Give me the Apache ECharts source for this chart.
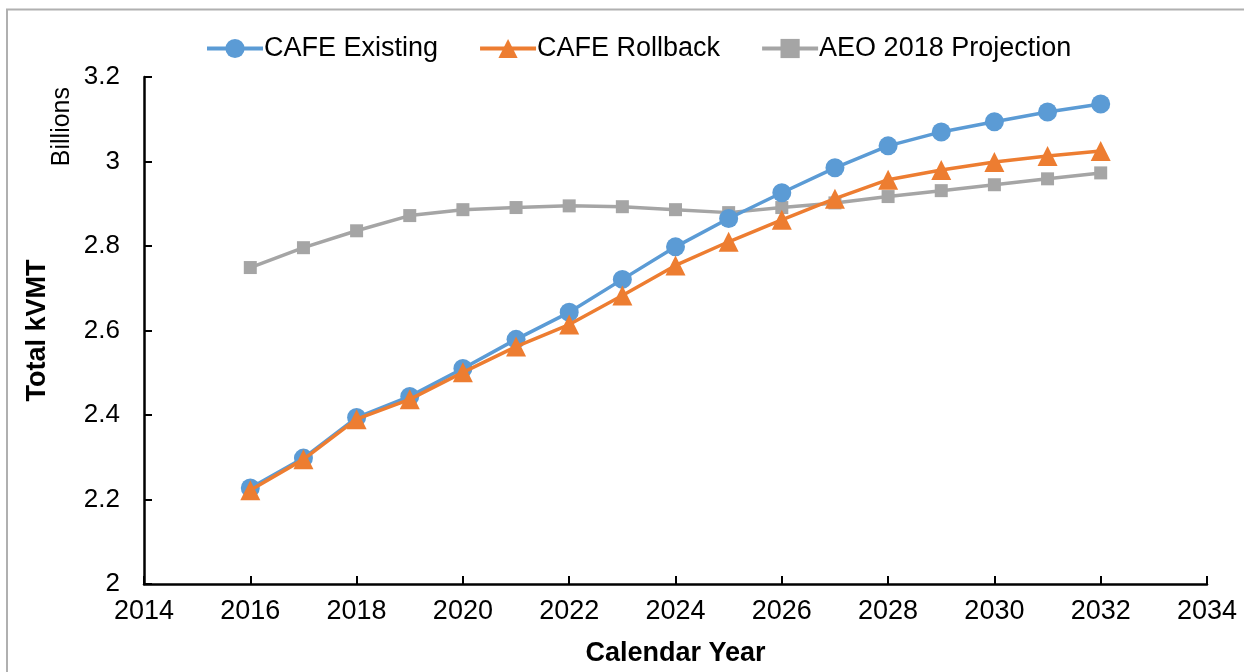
<!DOCTYPE html>
<html><head><meta charset="utf-8">
<script src="https://cdn.jsdelivr.net/npm/echarts@6/dist/echarts.min.js"></script>
<style>html,body{margin:0;padding:0;background:#fff}#c{width:1244px;height:672px}</style>
</head><body><div id="c"></div>
<script>
const years = [2016,2017,2018,2019,2020,2021,2022,2023,2024,2025,2026,2027,2028,2029,2030,2031,2032];
const cafeExisting = [2.227,2.298,2.394,2.444,2.510,2.579,2.643,2.721,2.798,2.865,2.926,2.985,3.037,3.070,3.094,3.117,3.136];
const cafeRollback = [2.222,2.295,2.390,2.437,2.501,2.562,2.614,2.683,2.754,2.810,2.862,2.912,2.957,2.980,2.999,3.013,3.025];
const aeo2018 = [2.749,2.796,2.836,2.872,2.886,2.891,2.895,2.893,2.886,2.879,2.891,2.902,2.917,2.931,2.945,2.959,2.973];
const seriesNames = ['CAFE Existing','CAFE Rollback','AEO 2018 Projection'];
const pair = arr => years.map((y,i)=>[y,arr[i]]);
const font = 'Liberation Sans, Arial, sans-serif';
const chart = echarts.init(document.getElementById('c'));
chart.setOption({
  animation:false,
  textStyle:{fontFamily:font},
  graphic:[
    {type:'rect',shape:{x:7,y:9.5,width:1300,height:700},style:{fill:'none',stroke:'#b0b0b0',lineWidth:2},z:-1},
    {type:'text',left:50,top:87,rotation:Math.PI/2,style:{text:'Billions',font:'25px '+font,fill:'#000'}}
  ],
  legend:{
    top:30,left:200,itemWidth:56,itemHeight:24,itemGap:40,
    lineStyle:{width:4},
    textStyle:{fontSize:27,color:'#000',fontFamily:font,padding:[0,0,0,-4]},
    data:seriesNames
  },
  grid:{left:144,right:37,top:77,bottom:88,containLabel:false},
  xAxis:{
    type:'value',min:2014,max:2034,interval:2,
    name:'Calendar Year',nameLocation:'middle',nameGap:56,
    nameTextStyle:{fontSize:27,fontWeight:'bold',color:'#000',fontFamily:font},
    axisLine:{lineStyle:{color:'#000',width:2.5}},
    axisTick:{inside:true,length:8,lineStyle:{color:'#000',width:2}},
    axisLabel:{fontSize:27,color:'#000',margin:14,fontFamily:font,formatter:v=>String(v)},
    splitLine:{show:false}
  },
  yAxis:{
    type:'value',min:2,max:3.2,interval:0.2,
    name:'Total kVMT',nameLocation:'middle',nameGap:93,
    nameTextStyle:{fontSize:27,fontWeight:'bold',color:'#000',fontFamily:font},
    axisLine:{show:true,lineStyle:{color:'#000',width:2.5}},
    axisTick:{show:true,inside:true,length:8,lineStyle:{color:'#000',width:2}},
    axisLabel:{fontSize:26,color:'#000',margin:24,fontFamily:font,formatter:v=>String(Math.round(v*10)/10)},
    splitLine:{show:false}
  },
  series:[
    {name:seriesNames[2],type:'line',data:pair(aeo2018),symbol:'rect',symbolSize:13,
     itemStyle:{color:'#A5A5A5'},lineStyle:{color:'#A5A5A5',width:3.5},z:1},
    {name:seriesNames[0],type:'line',data:pair(cafeExisting),symbol:'circle',symbolSize:19,
     itemStyle:{color:'#5B9BD5'},lineStyle:{color:'#5B9BD5',width:3.5},z:2},
    {name:seriesNames[1],type:'line',data:pair(cafeRollback),symbol:'triangle',symbolSize:20,
     itemStyle:{color:'#ED7D31'},lineStyle:{color:'#ED7D31',width:3.5},z:3}
  ]
});
</script></body></html>
